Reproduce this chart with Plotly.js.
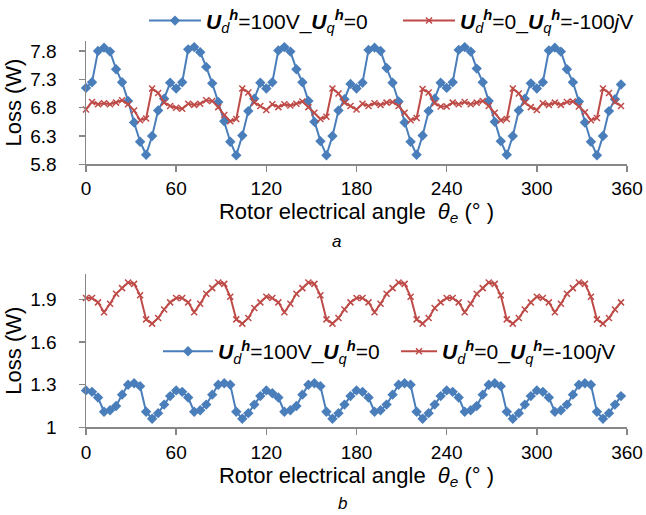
<!DOCTYPE html>
<html>
<head>
<meta charset="utf-8">
<script src="https://cdn.plot.ly/plotly-3.0.1.min.js"></script>
<style>html,body{margin:0;padding:0;background:#fff;}#chart{width:646px;height:515px;}</style>
</head>
<body>
<div id="chart"></div>
<script>
// Rotor electrical angle (deg)
const angles = [0,4,8,12,16,20,24,28,32,36,40,44,48,52,56,60,64,68,72,76,80,84,88,92,96,100,104,108,112,116,120,124,128,132,136,140,144,148,152,156,160,164,168,172,176,180,184,188,192,196,200,204,208,212,216,220,224,228,232,236,240,244,248,252,256,260,264,268,272,276,280,284,288,292,296,300,304,308,312,316,320,324,328,332,336,340,344,348,352,356];

// (a) top chart
const topDLoss = [
  7.15,7.25,7.80,7.86,7.79,7.48,7.25,6.92,6.54,6.20,5.97,6.30,6.75,6.96,7.24,
  7.14,7.25,7.83,7.87,7.78,7.52,7.23,6.90,6.56,6.20,5.96,6.31,6.74,6.96,7.24,
  7.14,7.25,7.81,7.87,7.79,7.48,7.25,6.92,6.55,6.21,5.96,6.30,6.75,6.95,7.22,
  7.14,7.24,7.82,7.86,7.80,7.50,7.24,6.91,6.54,6.20,5.97,6.31,6.74,6.96,7.24,
  7.15,7.25,7.82,7.87,7.79,7.49,7.25,6.92,6.55,6.21,5.97,6.30,6.75,6.96,7.23,
  7.14,7.25,7.81,7.86,7.79,7.48,7.25,6.91,6.54,6.20,5.96,6.30,6.74,6.95,7.21
];
const topQLoss = [
  6.77,6.90,6.86,6.88,6.86,6.89,6.93,6.86,6.75,6.58,6.61,7.14,7.06,6.89,6.83,
  6.80,6.78,6.87,6.85,6.87,6.93,6.92,6.81,6.67,6.56,6.60,7.14,7.07,6.89,6.83,
  6.76,6.86,6.81,6.86,6.84,6.87,6.91,6.81,6.71,6.60,6.64,7.14,7.05,6.89,6.83,
  6.77,6.87,6.83,6.88,6.85,6.89,6.90,6.83,6.71,6.58,6.62,7.13,7.07,6.88,6.82,
  6.82,6.89,6.86,6.90,6.86,6.89,6.92,6.83,6.71,6.58,6.60,7.14,7.05,6.89,6.81,
  6.76,6.88,6.85,6.89,6.85,6.90,6.91,6.82,6.72,6.58,6.62,7.14,7.06,6.90,6.83
];

// (b) bottom chart
const botDLoss = [
  1.26,1.25,1.21,1.11,1.12,1.15,1.23,1.30,1.31,1.29,1.11,1.06,1.10,1.16,1.22,
  1.26,1.25,1.21,1.11,1.12,1.16,1.23,1.30,1.31,1.30,1.11,1.06,1.10,1.16,1.22,
  1.26,1.24,1.21,1.11,1.12,1.15,1.23,1.30,1.31,1.29,1.11,1.06,1.10,1.16,1.22,
  1.26,1.25,1.21,1.11,1.12,1.16,1.23,1.30,1.31,1.30,1.11,1.06,1.10,1.16,1.22,
  1.26,1.25,1.21,1.11,1.12,1.15,1.23,1.30,1.31,1.29,1.11,1.06,1.10,1.16,1.22,
  1.26,1.25,1.21,1.11,1.12,1.16,1.23,1.30,1.31,1.30,1.11,1.06,1.10,1.16,1.22
];
const botQLoss = [
  1.91,1.91,1.88,1.81,1.87,1.94,1.98,2.02,2.01,1.93,1.76,1.73,1.77,1.83,1.88,
  1.91,1.91,1.88,1.81,1.87,1.94,1.98,2.02,2.01,1.92,1.76,1.73,1.77,1.84,1.88,
  1.92,1.91,1.88,1.81,1.87,1.94,1.98,2.02,2.01,1.93,1.76,1.73,1.77,1.83,1.88,
  1.91,1.91,1.88,1.81,1.87,1.94,1.98,2.02,2.01,1.92,1.76,1.73,1.77,1.84,1.88,
  1.91,1.91,1.88,1.81,1.87,1.94,1.98,2.02,2.01,1.93,1.76,1.73,1.77,1.83,1.88,
  1.92,1.91,1.88,1.81,1.87,1.94,1.98,2.02,2.01,1.92,1.76,1.73,1.77,1.83,1.88
];

const xTicks = [0,60,120,180,240,300,360];
const nameD = '<b><i>U</i></b><sub><i>d</i></sub><sup><b><i>h</i></b></sup>=100V_<b><i>U</i></b><sub><i>q</i></sub><sup><b><i>h</i></b></sup>=0';
const nameQ = '<b><i>U</i></b><sub><i>d</i></sub><sup><b><i>h</i></b></sup>=0_<b><i>U</i></b><sub><i>q</i></sub><sup><b><i>h</i></b></sup>=-100<i>j</i>V';
const xTitle = 'Rotor electrical angle  <i>θ</i><sub><i>e</i></sub> (° )';

const BLUE = '#4a7ebb', RED = '#be4b48', AX = '#878787';
const FONT = 'Liberation Sans, Arial, sans-serif';

function blueTrace(y, xa, ya, lg) {
  return {x: angles, y: y, xaxis: xa, yaxis: ya, legend: lg, name: nameD, type: 'scatter', mode: 'lines+markers',
    cliponaxis: false, line: {color: BLUE, width: 2}, marker: {symbol: 'diamond', size: 8, color: BLUE}};
}
function redTrace(y, xa, ya, lg) {
  return {x: angles, y: y, xaxis: xa, yaxis: ya, legend: lg, name: nameQ, type: 'scatter', mode: 'lines+markers',
    cliponaxis: false, line: {color: RED, width: 2}, marker: {symbol: 'x-thin', size: 6, color: RED, line: {color: RED, width: 1.5}}};
}

const data = [
  blueTrace(topDLoss, 'x', 'y', 'legend'),
  redTrace(topQLoss, 'x', 'y', 'legend3'),
  blueTrace(botDLoss, 'x2', 'y2', 'legend2'),
  redTrace(botQLoss, 'x2', 'y2', 'legend4')
];

function xAxis(anchor, lblStandoff, titleStandoff) {
  return {anchor: anchor, domain: [86/646, 627/646], range: [0, 360], tickvals: xTicks, ticktext: xTicks.map(String),
    showline: true, linecolor: AX, linewidth: 1.5, ticks: 'outside', ticklen: 6, tickcolor: AX, tickwidth: 1.5,
    showgrid: false, zeroline: false, tickfont: {family: FONT, size: 19, color: '#000'}, ticklabelstandoff: lblStandoff,
    title: {text: xTitle, font: {family: FONT, size: 22, color: '#000'}, standoff: titleStandoff}};
}
function yAxis(anchor, domain, range, tick0, dtick) {
  return {anchor: anchor, domain: domain, range: range, tick0: tick0, dtick: dtick, tickmode: 'linear',
    showline: true, linecolor: AX, linewidth: 1.5, ticks: 'outside', ticklen: 6, tickcolor: AX, tickwidth: 1.5,
    showgrid: false, zeroline: false, tickfont: {family: FONT, size: 19, color: '#000'}, ticklabelstandoff: 18,
    title: {text: 'Loss (W)', font: {family: FONT, size: 22, color: '#000'}, standoff: 2}};
}
function legendAt(px, py, iw) {
  return {orientation: 'h', x: px/646, xanchor: 'left', y: 1 - py/515, yanchor: 'middle', itemwidth: iw,
    font: {family: FONT, size: 21, color: '#000'}, bgcolor: 'rgba(0,0,0,0)'};
}

const layout = {
  width: 646, height: 515, margin: {l: 0, r: 0, t: 0, b: 0},
  paper_bgcolor: '#fff', plot_bgcolor: 'rgba(0,0,0,0)',
  font: {family: FONT, color: '#000'},
  xaxis: xAxis('y', 0, 4),
  yaxis: yAxis('x', [1 - 163/515, 1 - 39/515], [5.8, 7.98], 5.8, 0.5),
  xaxis2: xAxis('y2', 1, 0),
  yaxis2: yAxis('x2', [1 - 427/515, 1 - 273/515], [1, 2.08], 1, 0.3),
  legend: legendAt(144, 19, 52),
  legend3: legendAt(398, 19, 52),
  legend2: legendAt(158, 351, 50),
  legend4: legendAt(396, 351, 36),
  annotations: [
    {text: '<i>a</i>', xref: 'paper', yref: 'paper', x: 336/646, y: 1 - 240/515, yanchor: 'middle', xanchor: 'center', showarrow: false,
     font: {family: FONT, size: 17, color: '#000'}},
    {text: '<i>b</i>', xref: 'paper', yref: 'paper', x: 342/646, y: 1 - 503/515, yanchor: 'middle', xanchor: 'center', showarrow: false,
     font: {family: FONT, size: 17, color: '#000'}}
  ],
  showlegend: true
};

Plotly.newPlot('chart', data, layout, {displayModeBar: false, staticPlot: true});
</script>
</body>
</html>
